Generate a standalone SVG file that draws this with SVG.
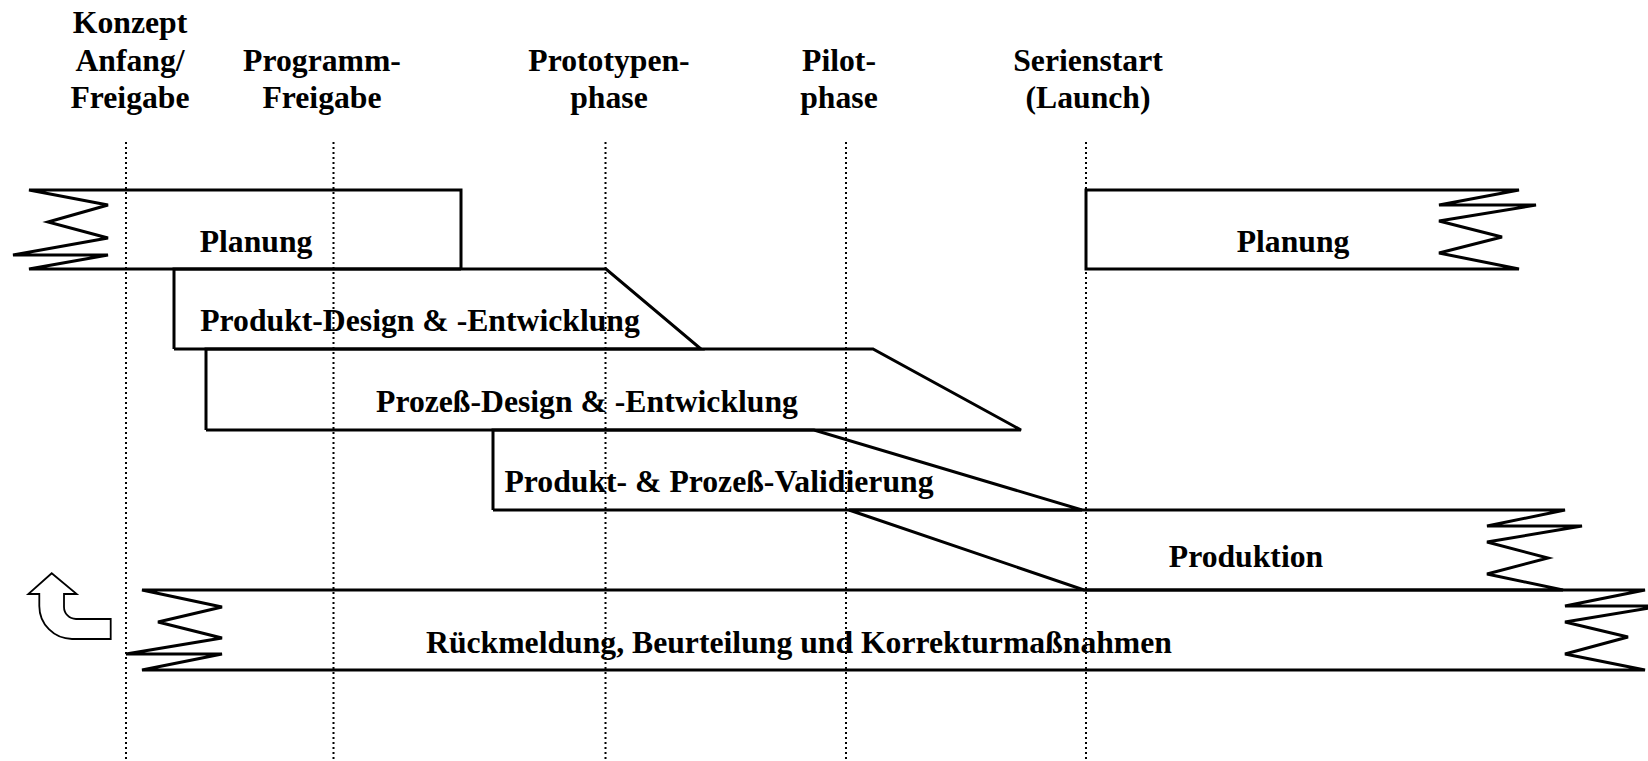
<svg xmlns="http://www.w3.org/2000/svg" width="1648" height="761" viewBox="0 0 1648 761">
<style>
  .t { font-family: "Liberation Serif", "Times New Roman", serif; font-weight: bold; font-size: 31.7px; fill: #000; text-anchor: middle; }
  .band { fill: none; stroke: #000; stroke-width: 3; stroke-linejoin: miter; stroke-miterlimit: 4; }
  .dot { stroke: #000; stroke-width: 2; stroke-dasharray: 2 3; fill: none; }
  .arrow { fill: #fff; stroke: #000; stroke-width: 1.8; stroke-linejoin: miter; }
</style>
<rect x="0" y="0" width="1648" height="761" fill="#fff"/>

<g id="milestones">
  <g id="m-konzept">
    <line class="dot" x1="126" y1="142" x2="126" y2="761"/>
    <text class="t" x="130" y="33">Konzept</text>
    <text class="t" x="130" y="71">Anfang/</text>
    <text class="t" x="130" y="108">Freigabe</text>
  </g>
  <g id="m-programm">
    <line class="dot" x1="333.5" y1="142" x2="333.5" y2="761"/>
    <text class="t" x="322" y="71">Programm-</text>
    <text class="t" x="322" y="108">Freigabe</text>
  </g>
  <g id="m-prototyp">
    <line class="dot" x1="605.5" y1="142" x2="605.5" y2="761"/>
    <text class="t" x="609" y="71">Prototypen-</text>
    <text class="t" x="609" y="108">phase</text>
  </g>
  <g id="m-pilot">
    <line class="dot" x1="846" y1="142" x2="846" y2="761"/>
    <text class="t" x="839" y="71">Pilot-</text>
    <text class="t" x="839" y="108">phase</text>
  </g>
  <g id="m-serienstart">
    <line class="dot" x1="1086" y1="142" x2="1086" y2="761"/>
    <text class="t" x="1088" y="71">Serienstart</text>
    <text class="t" x="1088" y="108">(Launch)</text>
  </g>
</g>

<g id="band-planung-1">
  <path class="band" d="M461,269 V190 H29 L108,205 L48,222 L108,238 L13,255 L108,255 L29,269 H461"/>
  <text class="t" x="256" y="252">Planung</text>
</g>

<g id="band-produkt-design">
  <path class="band" d="M174,349 V269 H606 L701,349 H174"/>
  <text class="t" x="420" y="331">Produkt-Design &amp; -Entwicklung</text>
</g>

<g id="band-prozess-design">
  <path class="band" d="M206,430 V349 H873 L1021,430 H206"/>
  <text class="t" x="587" y="412">Prozeß-Design &amp; -Entwicklung</text>
</g>

<g id="band-validierung">
  <path class="band" d="M493,510 V430 H814 L1082,510 H493"/>
  <text class="t" x="719" y="492">Produkt- &amp; Prozeß-Validierung</text>
</g>

<g id="band-produktion">
  <path class="band" d="M849,510 H1565 L1487,526 L1582,526 L1487,542 L1548,558 L1487,574 L1563,590 H1084 L849,510"/>
  <text class="t" x="1246" y="567">Produktion</text>
</g>

<g id="band-planung-2">
  <path class="band" d="M1086,190 H1519 L1439,205 L1536,205 L1439,221 L1502,237 L1439,253 L1519,269 H1086 Z"/>
  <text class="t" x="1293" y="252">Planung</text>
</g>

<g id="band-rueckmeldung">
  <path class="band" d="M142,590 H1645 L1565,606 L1662,606 L1565,622 L1628,637 L1565,654 L1645,670 H142 L222,654 L126,654 L222,638 L158,622 L222,607 Z"/>
  <text class="t" x="799" y="653">Rückmeldung, Beurteilung und Korrekturmaßnahmen</text>
</g>

<g id="return-arrow">
  <path class="arrow" d="M51.7,573.3 L76.7,594 L64,594 L64,607 A12,12 0 0 0 76,619 L110.7,619 L110.7,639 L72,639 A33,33 0 0 1 39.3,606 L39.3,594 L28.3,594 Z"/>
</g>
</svg>
